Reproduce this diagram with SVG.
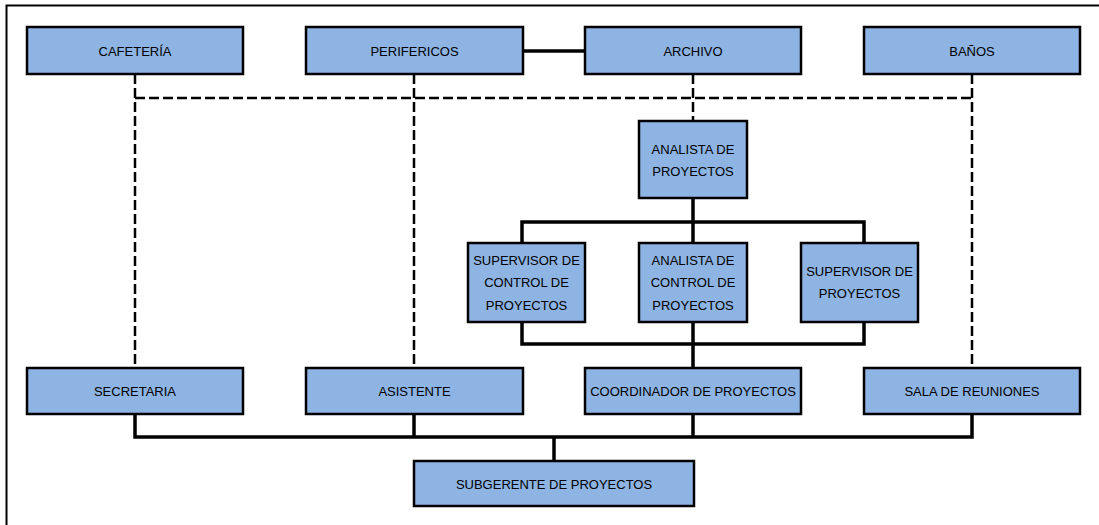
<svg xmlns="http://www.w3.org/2000/svg" width="1099" height="525" viewBox="0 0 1099 525">
<style>
.box{fill:#8EB4E3;stroke:#000;stroke-width:2.5}
.t{font-family:"Liberation Sans",Arial,sans-serif;font-size:13px;fill:#000;text-anchor:middle}
.solid{fill:none;stroke:#000;stroke-width:3.5}
.dash{fill:none;stroke:#000;stroke-width:2.5;stroke-dasharray:10 4}
</style>
<rect x="0" y="0" width="1099" height="525" fill="#fff"/>
<path d="M6.5 525 V5.5 H1099" fill="none" stroke="#000" stroke-width="2"/>
<g id="connectors">
<path class="solid" d="M523 51 H585"/>
<path class="dash" d="M135 74 V368 M414 74 V368 M972 74 V368 M693 74 V121 M135 98 H972"/>
<path class="solid" d="M693 198 V243 M522 243 V222 H864 V243"/>
<path class="solid" d="M522 322 V344 H864 V322 M693 322 V368"/>
<path class="solid" d="M135 414 V437 H972 V414 M414 414 V437 M693 414 V437 M554 437 V461"/>
</g>
<g id="cafeteria"><rect class="box" x="27" y="27" width="216" height="47"/><text class="t" x="135" y="55.5">CAFETERÍA</text></g>
<g id="perifericos"><rect class="box" x="306" y="27" width="217" height="47"/><text class="t" x="414.5" y="55.5">PERIFERICOS</text></g>
<g id="archivo"><rect class="box" x="585" y="27" width="216" height="47"/><text class="t" x="693" y="55.5">ARCHIVO</text></g>
<g id="banos"><rect class="box" x="864" y="27" width="216" height="47"/><text class="t" x="972" y="55.5">BAÑOS</text></g>
<g id="analista-proyectos"><rect class="box" x="639" y="121" width="108" height="77"/><text class="t" x="693" y="153.5">ANALISTA DE</text><text class="t" x="693" y="175.5">PROYECTOS</text></g>
<g id="supervisor-control"><rect class="box" x="468" y="243" width="117" height="79"/><text class="t" x="526.5" y="264.5">SUPERVISOR DE</text><text class="t" x="526.5" y="287">CONTROL DE</text><text class="t" x="526.5" y="309.5">PROYECTOS</text></g>
<g id="analista-control"><rect class="box" x="639" y="243" width="108" height="79"/><text class="t" x="693" y="264.5">ANALISTA DE</text><text class="t" x="693" y="287">CONTROL DE</text><text class="t" x="693" y="309.5">PROYECTOS</text></g>
<g id="supervisor-proyectos"><rect class="box" x="801" y="243" width="117" height="79"/><text class="t" x="859.5" y="275.5">SUPERVISOR DE</text><text class="t" x="859.5" y="298">PROYECTOS</text></g>
<g id="secretaria"><rect class="box" x="27" y="368" width="216" height="46"/><text class="t" x="135" y="395.5">SECRETARIA</text></g>
<g id="asistente"><rect class="box" x="306" y="368" width="217" height="46"/><text class="t" x="414.5" y="395.5">ASISTENTE</text></g>
<g id="coordinador"><rect class="box" x="585" y="368" width="216" height="46"/><text class="t" x="693" y="395.5">COORDINADOR DE PROYECTOS</text></g>
<g id="sala"><rect class="box" x="864" y="368" width="216" height="46"/><text class="t" x="972" y="395.5">SALA DE REUNIONES</text></g>
<g id="subgerente"><rect class="box" x="414" y="461" width="280" height="45"/><text class="t" x="554" y="488.5">SUBGERENTE DE PROYECTOS</text></g>
</svg>
